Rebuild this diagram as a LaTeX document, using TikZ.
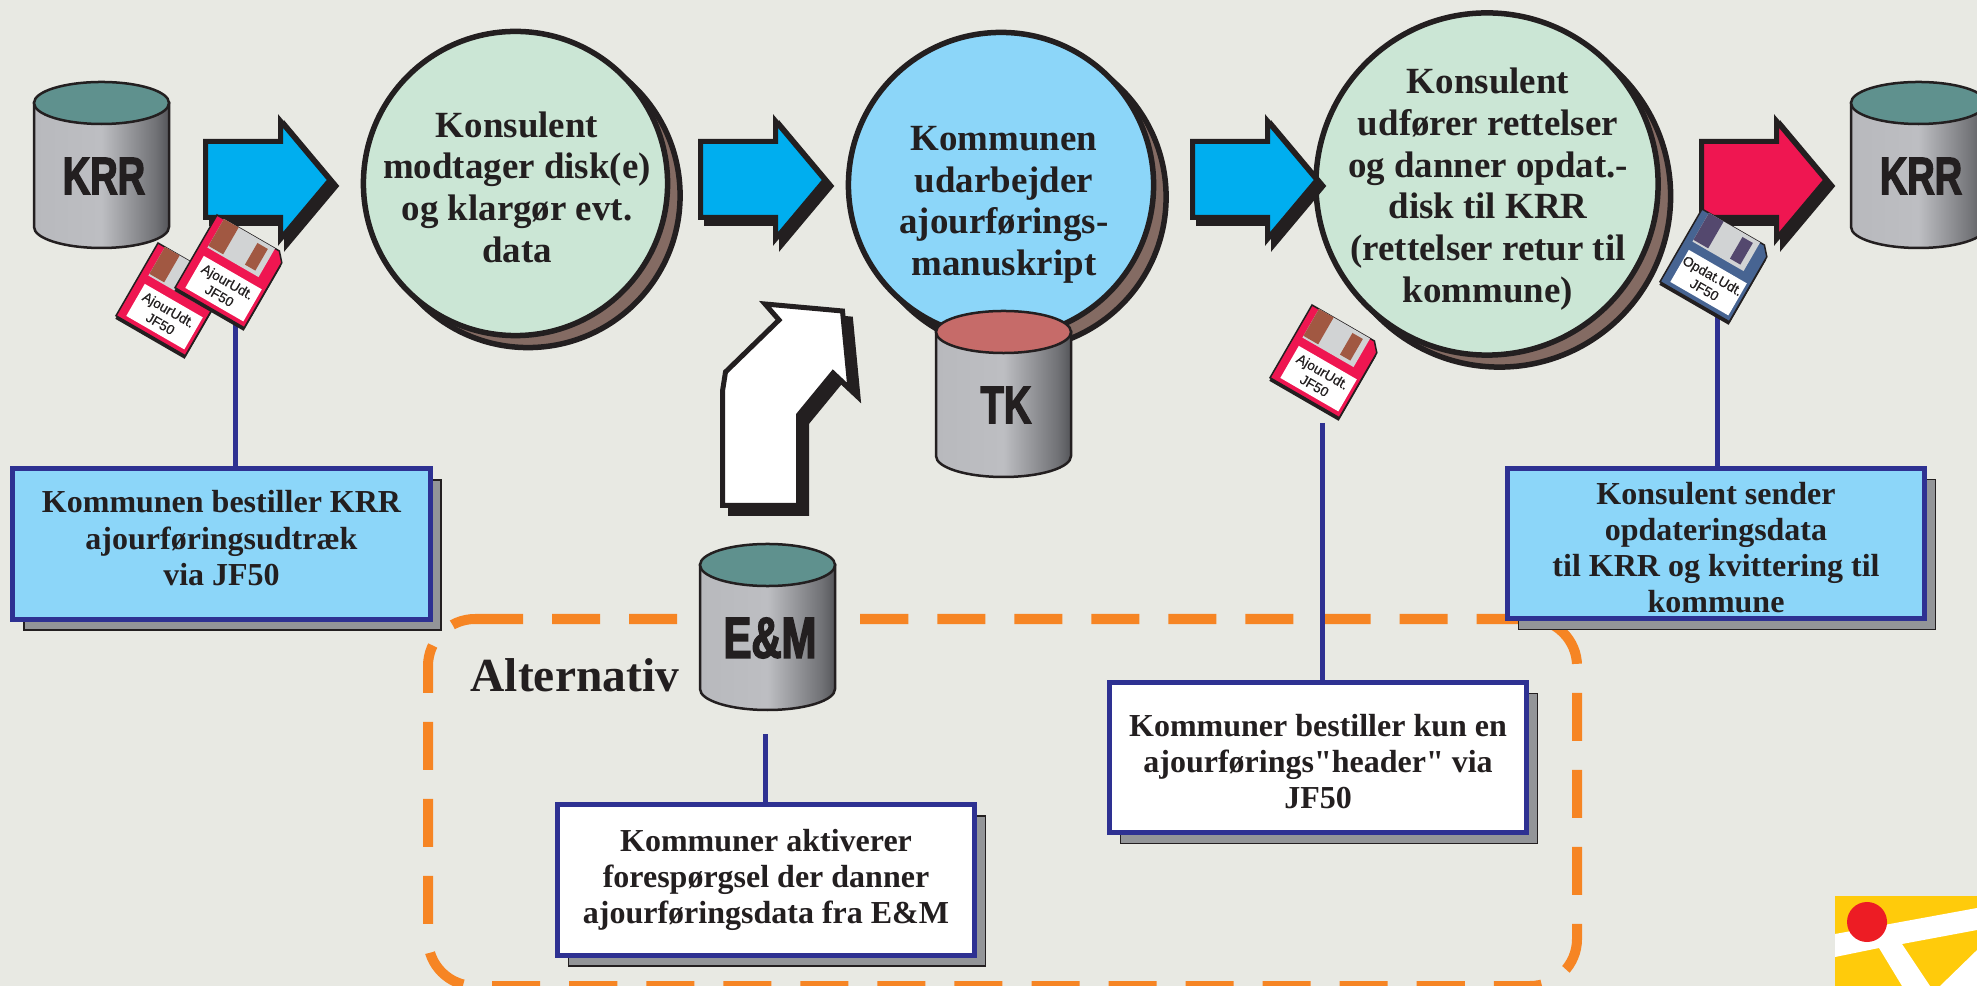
\documentclass[tikz,border=0pt]{standalone}
\usepackage{fontspec}
\setmainfont{Liberation Serif}
\setsansfont{Liberation Sans}
\newfontfamily\cylfont[FakeStretch=0.72,FakeBold=2.5]{Liberation Sans Bold}
\newfontfamily\quotefont{Liberation Serif Bold}
\newfontfamily\diskfont[FakeBold=0.4]{Liberation Sans}
\usetikzlibrary{shadows}
\definecolor{paper}{HTML}{E8E9E3}
\definecolor{ink}{HTML}{231F20}
\definecolor{mint}{HTML}{CBE6D5}
\definecolor{sky}{HTML}{8CD6F9}
\definecolor{mud}{HTML}{846B63}
\definecolor{cyanarrow}{HTML}{00AEEF}
\definecolor{redarrow}{HTML}{EF1651}
\definecolor{linkblue}{HTML}{2E3192}
\definecolor{dashorange}{HTML}{F68524}
\definecolor{shadowgray}{HTML}{939598}
\definecolor{teal}{HTML}{5F918E}
\definecolor{tkred}{HTML}{C66B69}
\definecolor{rust}{HTML}{A15842}
\definecolor{diskblue}{HTML}{476492}
\definecolor{diskdark}{HTML}{54486E}
\definecolor{shutter}{HTML}{D1D3D4}
\definecolor{logoyellow}{HTML}{FFCB0B}
\definecolor{logored}{HTML}{ED1C24}
\definecolor{cylA}{HTML}{B8B9BD}
\definecolor{cylB}{HTML}{BDBEC2}
\definecolor{cylC}{HTML}{97989C}
\definecolor{cylD}{HTML}{717276}
\definecolor{cylE}{HTML}{55565A}
\pgfdeclarehorizontalshading{cylshade}{100bp}{color(0bp)=(cylA);color(25bp)=(cylA);
  color(50bp)=(cylB);color(60bp)=(cylC);color(70bp)=(cylD);color(75bp)=(cylE);color(100bp)=(cylE)}
\newcommand{\pushdown}[1]{\rule{0pt}{#1}}
\newcommand{\pushup}[1]{\rule[-#1]{0pt}{0pt}}
\tikzset{
  bubble/.style={circle,draw=ink,line width=0.055cm,inner sep=0pt,
    copy shadow={shadow xshift=0.125cm,shadow yshift=-0.12cm,fill=mud,draw=ink,line width=0.055cm}},
  bubbletext/.style={text=ink,inner sep=0pt,align=center,font=\fontsize{10.5}{11.85}\selectfont\bfseries},
  infobox/.style={rectangle,draw=linkblue,line width=0.05cm,fill=sky,inner sep=0pt,text=ink,align=center,
    minimum width=4.17cm,minimum height=1.5cm,font=\fontsize{9.1}{10.3}\selectfont\bfseries,
    copy shadow={shadow xshift=0.11cm,shadow yshift=-0.11cm,fill=shadowgray,draw=ink,line width=0.4pt}},
  headerbox/.style={infobox,fill=white},
  blockline/.style={draw=ink,line width=0.05cm,miter limit=6},
  linkline/.style={draw=linkblue,line width=0.05cm},
  cyllabel/.style={text=ink,inner sep=0pt,font=\fontsize{15}{15}\cylfont},
  disklabel/.style={text=ink,inner sep=0pt,align=center,transform shape,
    font=\fontsize{3.9}{4.6}\diskfont},
}
% one cylinder: name, left, top, lid colour, label
\newcommand{\datacyl}[5]{
  \begin{scope}[shift={(#2,#3)}]
    \shade[shading=cylshade,draw=ink,line width=0.025cm] (0,0) -- (0,124)
      .. controls (0,135.6) and (30.2,145) .. (67.5,145)
      .. controls (104.8,145) and (135,135.6) .. (135,124) -- (135,0) -- cycle;
    \draw[draw=ink,line width=0.025cm,fill=#4] (67.5,0) ellipse [x radius=0.675cm,y radius=0.21cm];
    \node[cyllabel] (#1) at (70,73) {#5};
  \end{scope}}
% one block arrow: name, left, colour
\newcommand{\blockarrow}[3]{
  \coordinate (#1) at (#2,179);
  \foreach \s/\c in {6/ink,0/#3}
    \draw[blockline,fill=\c,shift={(#1)},shift={(\s,\s)}] (-2.5,-37.5) -- (72.5,-37.5) -- (72.5,-58) -- (122,1)
      -- (72.5,60) -- (72.5,38.5) -- (-2.5,38.5) -- cycle;}
% one diskette: name, left, top, body, shutter parts, text
\newcommand{\diskette}[6]{
  \begin{scope}[shift={(#2,#3)},rotate=-30]
    \fill[ink] (1,3) -- (73,3) -- (81,12) -- (81,87) -- (1,87) -- cycle;
    \draw[draw=ink,line width=0.015cm,fill=#4] (0,0) -- (72,0) -- (80,9) -- (80,84) -- (0,84) -- cycle;
    \fill[shutter] (8,0) rectangle (67,33);
    \fill[#5] (8,0) rectangle (25,31);
    \fill[#5] (49,4) rectangle (61,29);
    \fill[white] (9,42) rectangle (76,79);
    \node[disklabel] (#1) at (42.5,60.5) {#6};
  \end{scope}}
\begin{document}
\begin{tikzpicture}[x=0.01cm,y=-0.01cm]
  \path[use as bounding box,clip] (0,0) rectangle (1977,986);
  \fill[paper] (0,0) rectangle (1977,986);
  %alternative frame
  \draw[dashorange,line width=0.1cm,dash pattern=on 0.48cm off 0.29cm,rounded corners=0.47cm]
    (475,619) -- (1577,619) -- (1577,986) -- (428,986) -- (428,619) -- (475,619);

  \node[bubble,fill=mint,minimum size=3.04cm] (konsA) at (515.5,183.5) {};
  \node[bubbletext] (konsAtext) at (517,187) {Konsulent\\modtager disk(e)\\og klargør evt.\\data};
  \node[bubble,fill=sky,minimum size=3.05cm] (komm) at (1001,185) {};
  \node[bubbletext] (kommtext) at (1004,205) {Kommunen\\udarbejder\\ajourførings-\\manuskript};
  \node[bubble,fill=mint,minimum size=3.42cm] (konsB) at (1487,184) {};
  \node[bubbletext] (konsBtext) at (1488,189) {Konsulent\\udfører rettelser\\og danner opdat.-\\disk til KRR\\(rettelser retur til\\kommune)};

  \blockarrow{arrA}{208}{cyanarrow}
  \blockarrow{arrB}{703}{cyanarrow}
  \blockarrow{arrC}{1195}{cyanarrow}
  \blockarrow{arrD}{1704}{redarrow}

  %white arrow from below
  \foreach \s/\c in {8/ink,0/white}
    \draw[blockline,fill=\c,shift={(\s,\s)}] (722.5,505.5) -- (722.5,391) -- (725.5,372) -- (779,320) -- (765,304)
      -- (842.5,311) -- (850,389) -- (833,373) -- (798.5,415) -- (798.5,505.5) -- cycle;

  \datacyl{krrA}{34}{103}{teal}{KRR}
  \datacyl{krrB}{1851}{103}{teal}{KRR}
  \datacyl{tk}{936}{332}{tkred}{TK}
  \datacyl{em}{700}{565}{teal}{\fontsize{16.5}{16.5}\selectfont E\&M}

  \node[font=\fontsize{13.5}{13.5}\selectfont\bfseries,text=ink,inner sep=0pt,anchor=base west] (alt) at (470,691) {Alternativ};

  \node[infobox] (bestil) at (221.5,544) {Kommunen bestiller KRR\\ajourføringsudtræk\\via JF50\pushup{3.4pt}};
  \node[headerbox] (aktiver) at (766,880) {Kommuner aktiverer\\forespørgsel der danner\\ajourføringsdata fra E\&M};
  \node[headerbox] (header) at (1318,757.5) {\pushdown{8.7pt}Kommuner bestiller kun en\\ajourførings{\quotefont"}header{\quotefont"} via\\JF50};
  \node[infobox] (sender) at (1716,543.5) {\pushdown{8.7pt}Konsulent sender\\opdateringsdata\\til KRR og kvittering til\\kommune};

  \coordinate (topA) at (235,300);
  \coordinate (topB) at (765,734);
  \coordinate (topC) at (1322,423);
  \coordinate (topD) at (1717,300);
  \draw[linkline] (topA) -- (topA |- bestil.north);
  \draw[linkline] (topB) -- (topB |- aktiver.north);
  \draw[linkline] (topC) -- (topC |- header.north);
  \draw[linkline] (topD) -- (topD |- sender.north);

  \diskette{diskA}{158}{243}{redarrow}{rust}{AjourUdt.\\JF50}
  \diskette{diskB}{217}{215}{redarrow}{rust}{AjourUdt.\\JF50}
  \diskette{diskC}{1312}{305}{redarrow}{rust}{AjourUdt.\\JF50}
  \diskette{diskD}{1702}{209}{diskblue}{diskdark}{Opdat.Udt.\\JF50}

  %corner logo
  \fill[logoyellow] (1835,896) rectangle (1977,986);
  \fill[white] (1835,934) -- (1977,908) -- (1977,930) -- (1902,944) -- (1930,986) -- (1902,986) -- (1879,948) -- (1835,957) -- cycle;
  \fill[white] (1940,986) -- (1977,950) -- (1977,986) -- cycle;
  \fill[logored] (1867,922) circle [radius=0.2cm];
\end{tikzpicture}
\end{document}
